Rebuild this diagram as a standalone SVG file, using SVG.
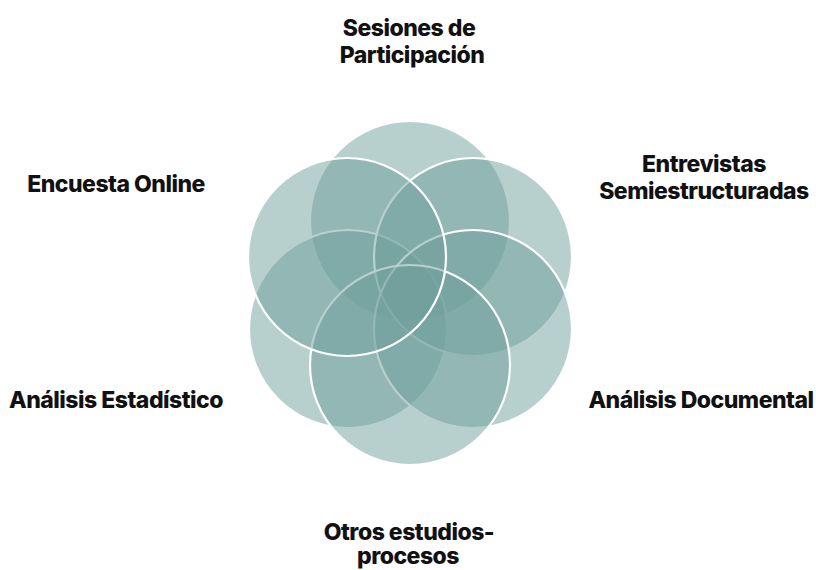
<svg xmlns="http://www.w3.org/2000/svg" width="816" height="570" viewBox="0 0 816 570">
<style>
.c{fill:#709f9b;fill-opacity:0.5;stroke:#ffffff;stroke-width:2.2}
.t{font-family:Inter,"Noto Sans","DejaVu Sans",sans-serif;font-weight:800;font-size:23px;fill:#111111;text-anchor:middle;letter-spacing:-0.5px}
</style>
<rect width="816" height="570" fill="#ffffff"/>
<g id="circles">
<g id="n-sesiones"><circle class="c" cx="410" cy="221" r="100"/></g>
<g id="n-estadistico"><circle class="c" cx="348" cy="329" r="99"/></g>
<g id="n-entrevistas"><circle class="c" cx="473" cy="257" r="99"/></g>
<g id="n-documental"><circle class="c" cx="473" cy="329" r="99"/></g>
<g id="n-otros"><circle class="c" cx="410" cy="365" r="100"/></g>
<g id="n-encuesta"><circle class="c" cx="347" cy="257" r="99"/></g>
</g>
<g id="labels">
<text class="t" x="409" y="36">Sesiones de</text>
<text class="t" x="412" y="63">Participación</text>
<text class="t" x="116" y="192">Encuesta Online</text>
<text class="t" x="704" y="172">Entrevistas</text>
<text class="t" x="704" y="199">Semiestructuradas</text>
<text class="t" x="116" y="408">Análisis Estadístico</text>
<text class="t" x="701" y="408">Análisis Documental</text>
<text class="t" x="409" y="540">Otros estudios-</text>
<text class="t" x="408" y="564">procesos</text>
</g>
<g id="connectors"/>
</svg>
